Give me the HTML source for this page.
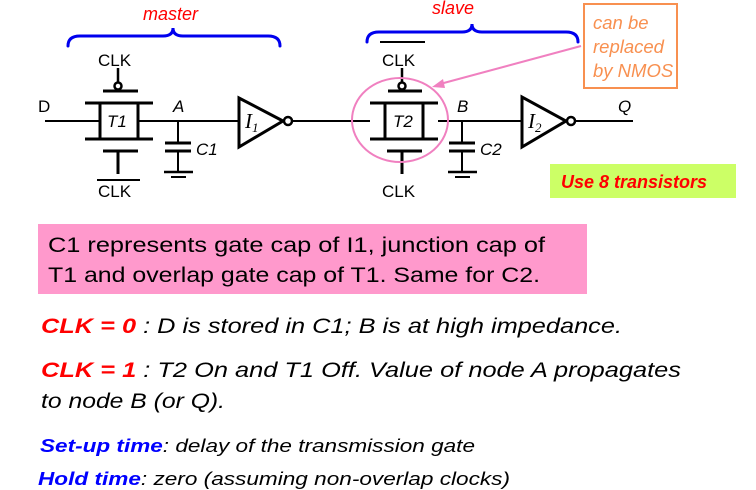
<!DOCTYPE html>
<html><head><meta charset="utf-8"><style>
html,body{margin:0;padding:0;background:#fff;}
svg{display:block;font-family:"Liberation Sans",sans-serif;}
</style></head><body>
<svg width="756" height="490" viewBox="0 0 756 490" xmlns="http://www.w3.org/2000/svg">
<g fill="none" stroke-linecap="round">
<path d="M68,46 Q68,36 80,36 L163,36 Q173,36 173,28 Q173,36 183,36 L268,36 Q280,36 280,46" stroke="#0000ee" stroke-width="3"/>
<path d="M367,42 Q367,32 379,32 L462,32 Q472,32 472,24 Q472,32 482,32 L566,32 Q578,32 578,42" stroke="#0000ee" stroke-width="3"/>
</g>
<g stroke="#000" fill="none">
<line x1="45" y1="121" x2="238" y2="121" stroke-width="2"/>
<line x1="292" y1="121" x2="370" y2="121" stroke-width="2"/>
<line x1="438" y1="121" x2="522" y2="121" stroke-width="2"/>
<line x1="576" y1="121" x2="633" y2="121" stroke-width="2"/>
<rect x="100" y="103" width="38" height="36" fill="#fff" stroke-width="3"/>
<line x1="85" y1="103" x2="153" y2="103" stroke-width="3"/>
<line x1="85" y1="139" x2="153" y2="139" stroke-width="3"/>
<line x1="103" y1="91" x2="138" y2="91" stroke-width="3"/>
<circle cx="118" cy="86" r="3.5" stroke-width="2.5" fill="#fff"/>
<line x1="118" y1="82" x2="118" y2="68" stroke-width="2.5"/>
<line x1="103" y1="151" x2="138" y2="151" stroke-width="3"/>
<line x1="118" y1="151" x2="118" y2="174" stroke-width="3"/>
<line x1="97" y1="180" x2="140" y2="180" stroke-width="2"/>
<line x1="178" y1="121" x2="178" y2="143" stroke-width="2"/>
<line x1="165" y1="143" x2="191" y2="143" stroke-width="3"/>
<line x1="165" y1="151" x2="191" y2="151" stroke-width="3"/>
<line x1="178" y1="151" x2="178" y2="172" stroke-width="2"/>
<line x1="164" y1="172" x2="193" y2="172" stroke-width="2.5"/>
<line x1="171" y1="177" x2="186" y2="177" stroke-width="2"/>
<polygon points="239,98 239,147 283,121" stroke-width="3" fill="#fff"/>
<circle cx="288" cy="121" r="4" stroke-width="2.5" fill="#fff"/>
<rect x="385" y="103" width="38" height="36" fill="#fff" stroke-width="3"/>
<line x1="370" y1="103" x2="438" y2="103" stroke-width="3"/>
<line x1="370" y1="139" x2="438" y2="139" stroke-width="3"/>
<line x1="388" y1="91" x2="422" y2="91" stroke-width="3"/>
<circle cx="402" cy="86" r="3.5" stroke-width="2.5" fill="#fff"/>
<line x1="402" y1="82" x2="402" y2="68" stroke-width="2.5"/>
<line x1="380" y1="42" x2="425" y2="42" stroke-width="2"/>
<line x1="387" y1="151" x2="422" y2="151" stroke-width="3"/>
<line x1="402" y1="151" x2="402" y2="174" stroke-width="3"/>
<line x1="462" y1="121" x2="462" y2="143" stroke-width="2"/>
<line x1="449" y1="143" x2="475" y2="143" stroke-width="3"/>
<line x1="449" y1="151" x2="475" y2="151" stroke-width="3"/>
<line x1="462" y1="151" x2="462" y2="172" stroke-width="2"/>
<line x1="448" y1="172" x2="477" y2="172" stroke-width="2.5"/>
<line x1="455" y1="177" x2="470" y2="177" stroke-width="2"/>
<polygon points="522,97 522,147 566,121" stroke-width="3" fill="#fff"/>
<circle cx="571" cy="121" r="4" stroke-width="2.5" fill="#fff"/>
</g>
<ellipse cx="400" cy="120" rx="48" ry="42" fill="none" stroke="#f080c0" stroke-width="2"/>
<line x1="581" y1="46" x2="440" y2="84" stroke="#f080c0" stroke-width="2"/>
<polygon points="432,87 443,79 445,88" fill="#f080c0"/>
<rect x="584" y="4" width="93" height="84" fill="#fff" stroke="#f89050" stroke-width="2"/>
<g fill="#f89050" font-style="italic" font-size="18.5">
<text x="593" y="29">can be</text>
<text x="593" y="53">replaced</text>
<text x="593" y="77">by NMOS</text>
</g>
<rect x="550" y="164" width="186" height="34" fill="#ccff66"/>
<text x="561" y="188" fill="#ff0000" font-style="italic" font-weight="bold" font-size="18">Use 8 transistors</text>
<g font-size="17" fill="#000">
<text x="143" y="20" fill="#ff0000" font-style="italic" font-size="18">master</text>
<text x="432" y="14" fill="#ff0000" font-style="italic" font-size="18">slave</text>
<text x="98" y="66">CLK</text>
<text x="98" y="197">CLK</text>
<text x="382" y="66">CLK</text>
<text x="382" y="197">CLK</text>
<text x="38" y="112">D</text>
<text x="173" y="112" font-style="italic">A</text>
<text x="457" y="112" font-style="italic">B</text>
<text x="618" y="112" font-style="italic">Q</text>
<text x="107" y="127" font-style="italic">T1</text>
<text x="393" y="127" font-style="italic">T2</text>
<text x="196" y="155" font-style="italic">C1</text>
<text x="480" y="155" font-style="italic">C2</text>
<text x="245" y="128" font-style="italic" font-family="Liberation Serif,serif" font-size="21">I<tspan font-size="13" dy="4">1</tspan></text>
<text x="528" y="128" font-style="italic" font-family="Liberation Serif,serif" font-size="21">I<tspan font-size="13" dy="4">2</tspan></text>
</g>
<rect x="38" y="224" width="549" height="70" fill="#ff99cc"/>
<g font-size="21" fill="#000">
<text x="48" y="252" textLength="497" lengthAdjust="spacingAndGlyphs">C1 represents gate cap of I1, junction cap of</text>
<text x="48" y="282" textLength="492" lengthAdjust="spacingAndGlyphs">T1 and overlap gate cap of T1. Same for C2.</text>
</g>
<g font-size="21" font-style="italic" fill="#000">
<text x="41" y="333" textLength="581" lengthAdjust="spacingAndGlyphs"><tspan fill="#ff0000" font-weight="bold">CLK = 0</tspan> : D is stored in C1;  B is at high impedance.</text>
<text x="41" y="377" textLength="640" lengthAdjust="spacingAndGlyphs"><tspan fill="#ff0000" font-weight="bold">CLK = 1</tspan> :  T2 On and T1 Off. Value of node A propagates</text>
<text x="41" y="408" textLength="184" lengthAdjust="spacingAndGlyphs">to node B (or Q).</text>
</g>
<g font-size="18" font-style="italic" fill="#000">
<text x="40" y="452" textLength="435" lengthAdjust="spacingAndGlyphs"><tspan fill="#0000ff" font-weight="bold">Set-up time</tspan>: delay of the transmission gate</text>
<text x="38" y="485" textLength="472" lengthAdjust="spacingAndGlyphs"><tspan fill="#0000ff" font-weight="bold">Hold time</tspan>: zero (assuming non-overlap clocks)</text>
</g>
</svg>
</body></html>
